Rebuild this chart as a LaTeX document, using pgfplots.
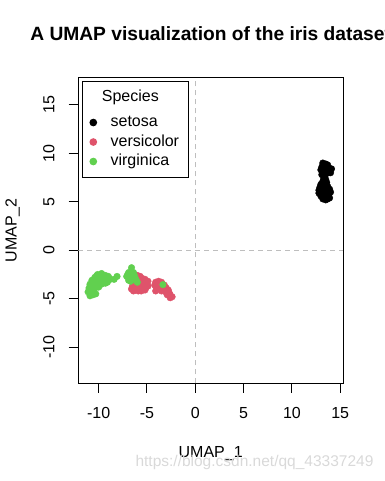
\documentclass[border=0pt]{standalone}
\usepackage{fontspec}
\setmainfont{Liberation Sans}
\usepackage{pgfplots}
\pgfplotsset{compat=1.18}
\definecolor{setosacol}{HTML}{000000}
\definecolor{versicol}{HTML}{DF536B}
\definecolor{virgcol}{HTML}{61D04F}
\definecolor{rgray}{HTML}{BEBEBE}
\newcommand{\fs}{\fontsize{16pt}{19pt}\selectfont}
\begin{document}
\begin{tikzpicture}
\useasboundingbox (0,0) rectangle (384pt,481pt);
\clip (0,0) rectangle (384pt,481pt);
\begin{axis}[
  at={(78.3pt,97.7pt)}, anchor=south west,
  scale only axis, width=264.7pt, height=306pt,
  xmin=-12.11, xmax=15.29, ymin=-13.73, ymax=17.85,
  axis line style={line width=1pt},
  tick align=outside, tick pos=left, major tick length=9.6pt,
  tick style={line width=1pt, black},
  xtick={-10,-5,0,5,10,15}, xticklabels={-10,-5,0,5,10,15},
  ytick={-10,-5,0,5,10,15}, yticklabels={-10,-5,0,5,10,15},
  tick label style={font=\fs},
  xticklabel style={anchor=base, yshift=-25.1pt},
  yticklabel style={xshift=-14.4pt, rotate=90, anchor=base},
  title={A UMAP visualization of the iris dataset},
  title style={at={(axis description cs:0.5,1)}, anchor=base, yshift=30.3pt,
    font=\fontsize{19.2pt}{23pt}\selectfont\bfseries},
  xlabel={UMAP\_1},
  xlabel style={at={(axis description cs:0.5,0)}, anchor=base, yshift=-73.7pt, font=\fs},
  ylabel={UMAP\_2},
  ylabel style={at={([xshift=-61.6pt]axis description cs:0,0.5)}, anchor=base, font=\fs},
  legend cell align=left,
  legend style={at={(0.014,0.987)}, anchor=north west, draw=black, line width=1pt,
    inner xsep=7.5pt, inner ysep=6pt, column sep=12pt, row sep=0pt, font=\fs,
    nodes={text height=12pt, text depth=3.5pt, inner sep=2pt}},
  legend image code/.code={\draw[#1] plot coordinates {(0cm,0cm)};},
]
\addlegendimage{empty legend}
\addlegendentry[text depth=9pt]{\hspace*{-8.7pt}Species}

\draw[rgray, line width=1pt, dash pattern=on 5pt off 4pt] (axis cs:0,-13.73) -- (axis cs:0,17.85);
\draw[rgray, line width=1pt, dash pattern=on 5pt off 4pt] (axis cs:-12.11,0) -- (axis cs:15.29,0);

\addplot[only marks, mark=*, mark size=3.3pt, color=setosacol, mark options={draw=none, fill=setosacol}] coordinates {
(13.2,9.0)(13.5,8.9)(13.7,8.8)(13.1,8.6)(13.4,8.6)(13.8,8.5)(14.1,8.4)(13.0,8.3)(13.3,8.3)(13.6,8.2)
(13.9,8.2)(14.0,8.0)(13.2,8.0)(13.5,7.9)(13.1,7.8)(13.4,7.6)(13.3,7.4)(13.5,7.3)(13.2,7.1)(13.6,7.0)
(13.4,6.9)(13.0,6.8)(13.3,6.6)(13.7,6.6)(12.9,6.5)(13.5,6.4)(13.9,6.3)(12.8,6.2)(13.1,6.2)(13.4,6.1)
(13.7,6.0)(14.0,6.0)(12.8,5.9)(13.2,5.8)(13.5,5.8)(13.8,5.7)(13.0,5.6)(13.3,5.5)(13.6,5.5)(13.9,5.4)
(13.2,5.3)(13.5,5.2)(13.7,5.3)(13.0,6.0)(13.6,6.3)(13.3,6.3)(13.8,8.0)(13.3,8.8)(13.6,8.5)(13.4,5.6)
};
\addlegendentry{setosa}

\addplot[only marks, mark=*, mark size=3.3pt, color=versicol, mark options={draw=none, fill=versicol}] coordinates {
(-6.0,-2.6)(-5.7,-2.7)(-6.3,-2.9)(-5.9,-3.0)(-5.5,-2.9)(-5.2,-3.0)(-4.9,-3.2)(-6.3,-3.3)(-5.9,-3.4)(-5.6,-3.3)
(-5.3,-3.3)(-5.0,-3.5)(-6.5,-3.7)(-6.1,-3.7)(-5.8,-3.7)(-5.4,-3.6)(-5.1,-3.8)(-4.9,-3.7)(-6.6,-4.0)(-6.2,-4.1)
(-5.8,-4.0)(-5.5,-3.9)(-5.2,-4.1)(-6.4,-4.2)(-5.9,-4.2)(-5.6,-4.2)(-5.3,-3.6)
(-4.1,-3.3)(-3.8,-3.2)(-3.5,-3.3)(-4.2,-3.6)(-3.9,-3.6)(-3.6,-3.7)(-3.2,-3.6)(-4.0,-4.0)(-3.7,-4.0)(-3.3,-3.9)
(-3.0,-3.9)(-4.1,-4.2)(-3.5,-4.2)(-3.1,-4.2)(-2.8,-4.1)(-3.0,-4.4)(-2.7,-4.4)(-2.9,-4.6)(-2.6,-4.6)(-2.4,-4.8)
(-2.6,-4.9)(-3.8,-3.4)(-3.4,-3.5)
};
\addlegendentry{versicolor}

\addplot[only marks, mark=*, mark size=3.3pt, color=virgcol, mark options={draw=none, fill=virgcol}] coordinates {
(-10.1,-2.5)(-9.7,-2.4)(-9.3,-2.6)(-9.0,-2.7)(-10.4,-2.8)(-10.0,-2.9)(-9.6,-2.8)(-9.2,-3.0)(-8.8,-3.0)(-10.7,-3.1)
(-10.3,-3.2)(-9.9,-3.3)(-9.5,-3.2)(-9.1,-3.3)(-8.9,-2.9)(-10.9,-3.5)(-10.5,-3.6)(-10.1,-3.5)(-9.7,-3.5)(-9.3,-3.4)
(-11.0,-3.9)(-10.7,-4.0)(-10.4,-3.9)(-10.0,-3.8)(-11.1,-4.3)(-10.8,-4.4)(-10.5,-4.2)(-10.9,-4.7)(-10.6,-4.6)(-10.3,-4.5)
(-10.2,-2.6)(-9.4,-2.9)(-8.1,-2.7)(-8.4,-3.0)(-10.6,-3.3)(-9.8,-3.1)
(-6.6,-1.8)(-6.9,-2.3)(-6.4,-2.3)(-7.1,-2.7)(-6.7,-2.7)(-6.3,-2.6)(-6.9,-3.1)(-6.5,-3.0)(-6.1,-3.1)(-7.0,-2.5)
(-6.2,-2.9)(-6.7,-3.2)(-3.35,-3.55)(-6.0,-3.3)
};
\addlegendentry{virginica}
\end{axis}
\node[anchor=base west, text=black!15, font=\fontsize{15.5pt}{18pt}\selectfont] at (132pt,14.3pt) {https://blog.csdn.net/qq\_43337249};
\end{tikzpicture}
\end{document}
